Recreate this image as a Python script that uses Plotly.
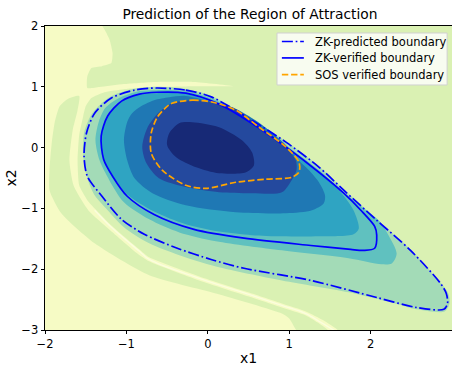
import plotly.graph_objects as go

# ---------------- data (in x1/x2 units) ----------------
# boundary curves
zk_pred_x1 = [-0.63, -0.27, 0.05, 0.54, 0.96, 1.365, 1.67, 2.075, 2.49, 2.86, 2.93, 2.945, 2.90, 2.565, 2.075,
              1.265, 0.445, 0.04, -0.375, -0.78, -1.06, -1.30, -1.48, -1.52, -1.49, -1.39, -1.185, -0.90, -0.63]
zk_pred_x2 = [0.98, 0.945, 0.83, 0.45, 0.09, -0.32, -0.70, -1.195, -1.69, -2.235, -2.40, -2.565, -2.66, -2.63, -2.465,
              -2.185, -1.985, -1.84, -1.655, -1.425, -1.18, -0.80, -0.47, -0.14, 0.24, 0.565, 0.815, 0.945, 0.98]

zk_ver_x1 = [-0.63, -0.27, 0.14, 0.54, 0.96, 1.365, 1.67, 1.88, 2.05, 2.075, 2.05, 1.915, 1.755, 1.265, 0.445,
             -0.17, -0.66, -0.99, -1.17, -1.28, -1.31, -1.23, -1.06, -0.84, -0.63]
zk_ver_x2 = [0.91, 0.895, 0.715, 0.40, 0.01, -0.405, -0.75, -1.03, -1.295, -1.44, -1.655, -1.69, -1.675, -1.61, -1.49,
             -1.345, -1.10, -0.80, -0.47, -0.19, 0.19, 0.52, 0.765, 0.88, 0.91]

sos_x1 = [-0.44, -0.19, 0.05, 0.345, 0.63, 0.96, 1.12, 1.12, 1.03, 0.715, 0.345, -0.02, -0.27, -0.56, -0.695,
          -0.695, -0.62, -0.51, -0.44]
sos_x2 = [0.73, 0.78, 0.75, 0.615, 0.335, 0.01, -0.24, -0.405, -0.49, -0.52, -0.57, -0.67, -0.62, -0.37, -0.09,
          0.24, 0.50, 0.665, 0.73]

series_names = ["ZK-predicted boundary", "ZK-verified boundary", "SOS verified boundary"]

# filled contour bands (outer to inner)
band_pale_x1 = [-2.05, -1.33, -1.21, -1.17, -1.185, -1.30, -1.43, -1.48, -1.48, -1.33, -1.03, -0.66, -0.17, 0.32,
                -0.17, -0.66, -1.03, -1.27, -1.43, -1.50, -1.53, -1.58, -1.60, -1.58, -1.48, -1.39, -1.185, -0.84,
                -0.72, -0.105, 0.505, 0.91, 1.205, 1.425, 1.63, -2.05]
band_pale_x2 = [2.05, 2.05, 1.785, 1.555, 1.39, 1.34, 1.31, 1.175, 0.98, 0.995, 1.045, 1.08, 1.08, 1.01,
                1.01, 0.995, 0.96, 0.91, 0.815, 0.68, 0.52, 0.205, -0.21, -0.62, -0.865, -1.0, -1.28, -1.675,
                -1.805, -2.12, -2.385, -2.565, -2.695, -2.845, -3.05, -3.05]

band_green_x1 = [-1.58, -1.60, -1.66, -1.70, -1.65, -1.55, -1.455, -1.21, -0.865, -0.72, -0.105, 0.505, 0.91,
                 1.205, 1.365, 1.51, 1.12, 1.00, 0.91, 0.10, -0.72, -1.39, -1.80, -1.945, -1.945, -1.92, -1.88,
                 -1.82, -1.72, -1.58]
band_green_x2 = [0.85, 0.615, 0.285, -0.21, -0.62, -0.865, -1.05, -1.345, -1.74, -1.87, -2.185, -2.45, -2.63,
                 -2.76, -2.89, -3.05, -3.05, -2.81, -2.73, -2.40, -2.10, -1.575, -1.08, -0.70, -0.37, 0.04, 0.42,
                 0.68, 0.80, 0.85]

streak_x1 = [-1.39, -1.185, -0.84, -0.72, -0.105, 0.505, 0.91, 1.205, 1.39, 1.57]
streak_x2 = [-1.03, -1.31, -1.705, -1.84, -2.15, -2.415, -2.595, -2.73, -2.875, -3.02]

band_mint_x1 = [-0.63, -0.27, 0.05, 0.54, 0.96, 1.365, 1.67, 2.075, 2.49, 2.86, 2.955, 2.97, 2.91, 2.565, 2.345,
                1.73, 0.91, 0.10, -0.35, -0.72, -1.03, -1.23, -1.39, -1.48, -1.53, -1.52, -1.42, -1.21, -0.93, -0.63]
band_mint_x2 = [1.0, 0.965, 0.85, 0.465, 0.105, -0.305, -0.685, -1.18, -1.675, -2.22, -2.40, -2.565, -2.695, -2.66,
                -2.58, -2.38, -2.185, -1.955, -1.77, -1.575, -1.31, -1.03, -0.785, -0.505, -0.14, 0.24, 0.565,
                0.83, 0.96, 1.0]

band_teal_x1 = [-0.84, -0.63, -0.27, 0.10, 0.54, 0.96, 1.365, 1.67, 1.915, 2.10, 2.22, 2.32, 2.26, 2.135, 1.73,
                0.91, 0.10, -0.35, -0.72, -1.03, -1.21, -1.33, -1.38, -1.34, -1.26, -1.09, -0.84]
band_teal_x2 = [0.93, 0.945, 0.93, 0.78, 0.435, 0.04, -0.37, -0.735, -1.0, -1.195, -1.44, -1.74, -1.905, -1.92,
                -1.82, -1.69, -1.54, -1.395, -1.18, -0.90, -0.535, -0.21, 0.12, 0.42, 0.65, 0.815, 0.93]

band_cyan_x1 = [-0.84, -0.63, -0.27, 0.14, 0.54, 0.96, 1.365, 1.61, 1.79, 1.855, 1.79, 1.365, 0.91, 0.54, 0.14,
                -0.27, -0.66, -0.99, -1.17, -1.28, -1.31, -1.23, -1.06, -0.84]
band_cyan_x2 = [0.88, 0.895, 0.88, 0.70, 0.385, -0.01, -0.42, -0.70, -1.03, -1.33, -1.425, -1.46, -1.46, -1.44,
                -1.38, -1.26, -1.05, -0.77, -0.455, -0.175, 0.19, 0.52, 0.765, 0.88]

band_blue_x1 = [-0.93, -0.82, -0.66, -0.475, -0.27, 0.015, 0.345, 0.655, 0.935, 1.09, 1.24, 1.365, 1.44, 1.425,
                1.28, 0.96, 0.345, -0.27, -0.68, -0.90, -0.99, -1.03, -0.99, -0.93]
band_blue_x2 = [0.565, 0.68, 0.78, 0.83, 0.85, 0.765, 0.635, 0.385, 0.075, -0.175, -0.37, -0.57, -0.785, -0.915,
                -1.03, -1.08, -1.065, -0.95, -0.75, -0.505, -0.21, 0.12, 0.42, 0.565]

band_dark_x1 = [-0.60, -0.44, -0.19, 0.05, 0.345, 0.63, 0.935, 1.08, 1.09, 1.03, 0.91, 0.54, 0.14, -0.27, -0.60,
                -0.755, -0.805, -0.745, -0.60]
band_dark_x2 = [0.58, 0.73, 0.78, 0.75, 0.635, 0.35, 0.04, -0.21, -0.37, -0.535, -0.735, -0.75, -0.735, -0.65,
                -0.505, -0.255, 0.01, 0.32, 0.58]

band_navy_x1 = [-0.352, -0.192, 0.138, 0.420, 0.543, 0.567, 0.469, 0.138, -0.143, -0.389, -0.499, -0.474, -0.352]
band_navy_x2 = [0.402, 0.418, 0.336, 0.122, -0.076, -0.290, -0.405, -0.422, -0.323, -0.158, 0.040, 0.237, 0.402]

x_ticks = [-2, -1, 0, 1, 2, 3]
y_ticks = [-3, -2, -1, 0, 1, 2]

# ---------------- figure ----------------
FONT = "DejaVu Sans"
FS = 11.5
BLUE = "#0000ff"
ORANGE = "#ffa500"
DASHDOT = "11px,2.8px,1.7px,2.8px"
DASHED = "6.4px,2.8px"
LW = 1.7

fig = go.Figure()


def band(xs, ys, color, smooth=0.8):
    fig.add_trace(go.Scatter(x=xs, y=ys, mode="lines", fill="toself", fillcolor=color,
                             line=dict(width=0, color=color, shape="spline", smoothing=smooth),
                             showlegend=False, hoverinfo="skip"))


band(band_pale_x1, band_pale_x2, "#f6fbc5", 0.5)
band(band_green_x1, band_green_x2, "#daf1b3", 0.6)
fig.add_trace(go.Scatter(x=streak_x1, y=streak_x2, mode="lines",
                         line=dict(width=1.4, color="#fbfdde", shape="spline"),
                         showlegend=False, hoverinfo="skip"))
band(band_mint_x1, band_mint_x2, "#a3dbb7")
band(band_teal_x1, band_teal_x2, "#60c1bf")
band(band_cyan_x1, band_cyan_x2, "#2fa4c2")
band(band_blue_x1, band_blue_x2, "#1f78b4")
band(band_dark_x1, band_dark_x2, "#24499e")
band(band_navy_x1, band_navy_x2, "#172976")

fig.add_trace(go.Scatter(x=zk_pred_x1, y=zk_pred_x2, mode="lines", name=series_names[0], showlegend=False,
                         line=dict(color=BLUE, width=LW, dash=DASHDOT, shape="spline", smoothing=0.8)))
fig.add_trace(go.Scatter(x=zk_ver_x1, y=zk_ver_x2, mode="lines", name=series_names[1], showlegend=False,
                         line=dict(color=BLUE, width=LW, shape="spline", smoothing=0.8)))
fig.add_trace(go.Scatter(x=sos_x1, y=sos_x2, mode="lines", name=series_names[2], showlegend=False,
                         line=dict(color=ORANGE, width=LW, dash=DASHED, shape="spline", smoothing=0.8)))

# ---- legend box (matplotlib-style, upper right) ----
fig.add_shape(type="rect", xref="paper", yref="paper", x0=0.570, x1=0.988, y0=0.806, y1=0.977,
              line=dict(color="#d0d0d0", width=1), fillcolor="rgba(255,255,255,0.8)", layer="above")
leg_rows = [0.949, 0.895, 0.840]
leg_styles = [(BLUE, DASHDOT), (BLUE, "solid"), (ORANGE, DASHED)]
for name, yy, (col, dsh) in zip(series_names, leg_rows, leg_styles):
    fig.add_shape(type="line", xref="paper", yref="paper", x0=0.582, x1=0.636, y0=yy, y1=yy,
                  line=dict(color=col, width=LW, dash=dsh), layer="above")
    fig.add_annotation(xref="paper", yref="paper", x=0.658, y=yy, text=name, showarrow=False,
                       xanchor="left", yanchor="middle", font=dict(size=FS, family=FONT, color="black"))

fig.update_layout(
    width=452, height=366,
    margin=dict(l=45, r=0, t=26, b=36),
    paper_bgcolor="white", plot_bgcolor="#daf1b3",
    font=dict(family=FONT, size=FS, color="black"),
    title=dict(text="Prediction of the Region of Attraction", x=0.553, xref="container", xanchor="center",
               y=0.962, yref="container", yanchor="middle", font=dict(size=13.8, family=FONT, color="black")),
    showlegend=False,
)
fig.update_xaxes(range=[-2, 3], tickvals=x_ticks, ticks="outside", ticklen=3.5, tickwidth=0.8,
                 tickcolor="black", showline=True, linecolor="black", linewidth=0.8, mirror=True,
                 showgrid=False, zeroline=False, title=dict(text="x1", standoff=3),
                 tickfont=dict(size=FS, family=FONT))
fig.update_yaxes(range=[-3, 2], tickvals=y_ticks, ticks="outside", ticklen=3.5, tickwidth=0.8,
                 tickcolor="black", showline=True, linecolor="black", linewidth=0.8, mirror=False,
                 showgrid=False, zeroline=False, title=dict(text="x2", standoff=1),
                 tickfont=dict(size=FS, family=FONT))

fig.write_html("out.html")
